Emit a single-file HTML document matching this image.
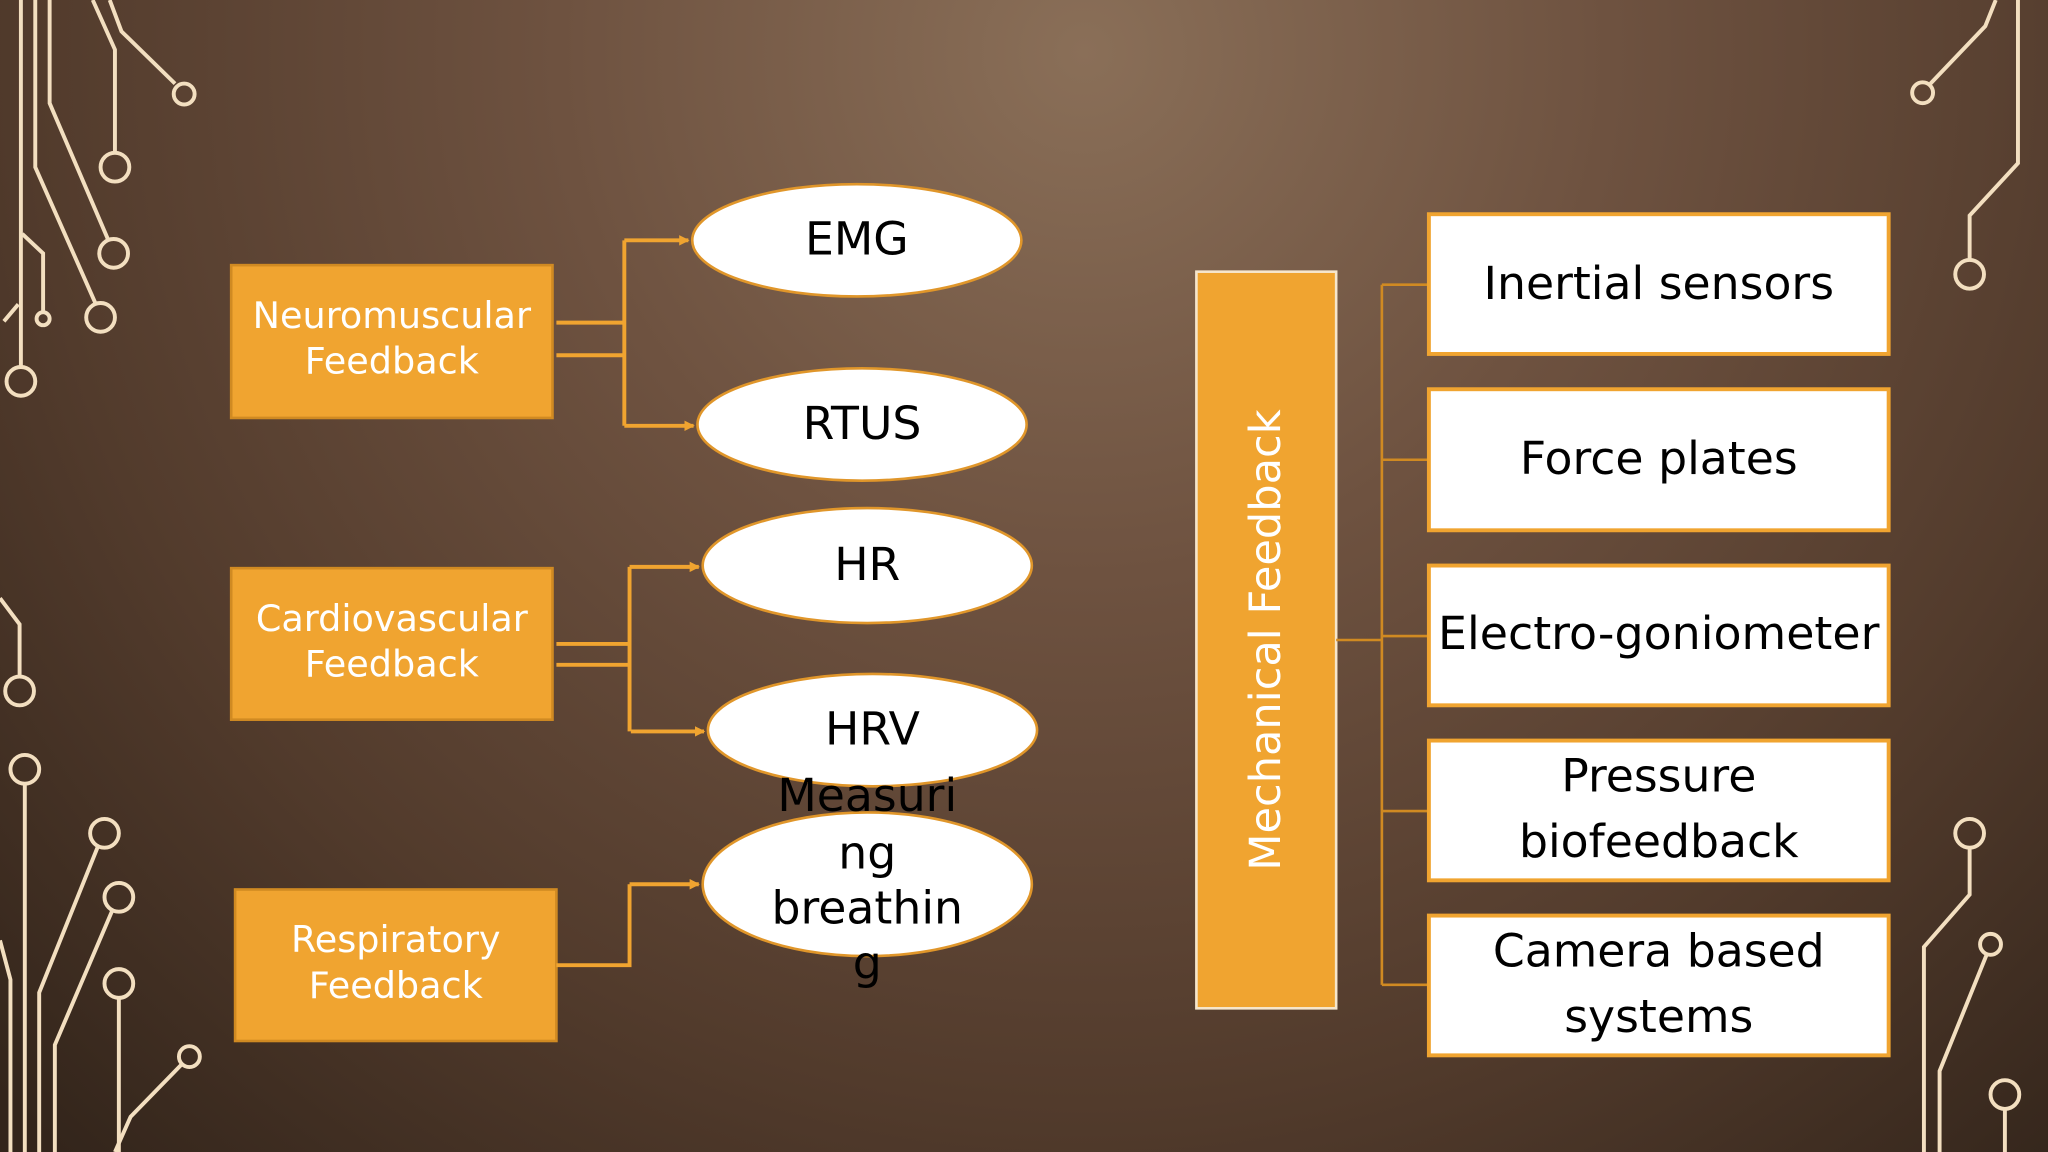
<!DOCTYPE html>
<html><head><meta charset="utf-8"><style>
html,body{margin:0;padding:0;width:2048px;height:1152px;overflow:hidden;background:#4a3526}
svg{display:block}
text{font-family:"DejaVu Sans","Liberation Sans",sans-serif}
</style></head><body>
<svg width="2048" height="1152" viewBox="0 0 1568 882" preserveAspectRatio="none" xmlns="http://www.w3.org/2000/svg">
<defs>
<radialGradient id="bg" cx="830" cy="40" r="1150" gradientUnits="userSpaceOnUse">
<stop offset="0" stop-color="#8a6f58"/>
<stop offset="0.35" stop-color="#6e5240"/>
<stop offset="0.7" stop-color="#523b2c"/>
<stop offset="1" stop-color="#33251b"/>
</radialGradient>
<marker id="ar" markerWidth="8" markerHeight="8" refX="7" refY="4" orient="auto" markerUnits="userSpaceOnUse"><path d="M0,0 L8,4 L0,8 z" fill="#f0a430"/></marker>
</defs>
<rect width="1568" height="882" fill="url(#bg)"/>
<g fill="none" stroke="#f3dfc0" stroke-width="3">
<path d="M16,0 V281"/><circle cx="16" cy="292" r="11"/>
<path d="M27,0 V128 L73,232"/><circle cx="77" cy="243" r="11"/>
<path d="M38,0 V79 L83,184"/><circle cx="87" cy="194" r="11"/>
<path d="M71,0 L88,38 V117"/><circle cx="88" cy="128" r="11"/>
<path d="M84,0 L93,24 L134,64"/><circle cx="141" cy="72" r="8"/>
<path d="M17,179 L33,194 V238"/><circle cx="33" cy="244" r="5"/>
<path d="M3,246 L14,233"/>
<path d="M1528,0 L1520,20 L1478,64"/><circle cx="1472" cy="71" r="8"/>
<path d="M1545,0 V125 L1508,165 V198"/><circle cx="1508" cy="210" r="11"/>
<path d="M0,458 L15,478 V518"/><circle cx="15" cy="529" r="11"/>
<circle cx="19" cy="589" r="11"/><path d="M19,600 V882"/>
<path d="M0,720 L8,750 V882"/>
<circle cx="80" cy="638" r="11"/><path d="M75,648 L30,760 V882"/>
<circle cx="91" cy="687" r="11"/><path d="M86,697 L42,800 V882"/>
<circle cx="91" cy="753" r="11"/><path d="M91,764 V882"/>
<circle cx="145" cy="809" r="8"/><path d="M139,815 L100,855 L88,882"/>
<circle cx="1508" cy="638" r="11"/><path d="M1508,649 V685 L1473,725 V882"/>
<circle cx="1524" cy="723" r="8"/><path d="M1521,731 L1485,820 V882"/>
<circle cx="1535" cy="838" r="11"/><path d="M1535,849 V882"/>
</g>
<g fill="#f0a430" stroke="#d08a22" stroke-width="2">
<rect x="177" y="203" width="246" height="117"/>
<rect x="177" y="435" width="246" height="116"/>
<rect x="180" y="681" width="246" height="116"/>
</g>
<g fill="#fff" font-size="28" text-anchor="middle">
<text x="300" y="251">Neuromuscular</text><text x="300" y="286">Feedback</text>
<text x="300" y="483">Cardiovascular</text><text x="300" y="518">Feedback</text>
<text x="303" y="729">Respiratory</text><text x="303" y="764">Feedback</text>
</g>
<g fill="none" stroke="#f0a430" stroke-width="3">
<path d="M426,247 H478 M426,272 H478 M478,184 V326"/>
<path d="M478,184 H527" marker-end="url(#ar)"/>
<path d="M478,326 H531" marker-end="url(#ar)"/>
<path d="M426,493 H483 M426,509 H483 M482,434 V560"/>
<path d="M482,434 H535" marker-end="url(#ar)"/>
<path d="M483,560 H539" marker-end="url(#ar)"/>
<path d="M426,739 H482 V677"/>
<path d="M482,677 H535" marker-end="url(#ar)"/>
</g>
<g fill="#fff" stroke="#e0962a" stroke-width="2">
<ellipse cx="656" cy="184" rx="126" ry="43"/>
<ellipse cx="660" cy="325" rx="126" ry="43"/>
<ellipse cx="664" cy="433" rx="126" ry="44"/>
<ellipse cx="668" cy="559" rx="126" ry="43"/>
<ellipse cx="664" cy="677" rx="126" ry="55"/>
</g>
<g fill="#000" font-size="35" text-anchor="middle">
<text x="656" y="195">EMG</text>
<text x="660" y="336">RTUS</text>
<text x="664" y="444">HR</text>
<text x="668" y="570">HRV</text>
<text x="664" y="621">Measuri</text>
<text x="664" y="665">ng</text>
<text x="664" y="707">breathin</text>
<text x="664" y="749">g</text>
</g>
<rect x="916" y="208" width="107" height="564" fill="#f0a430" stroke="#f6e6cc" stroke-width="2"/>
<text x="0" y="0" fill="#fff" font-size="33" text-anchor="middle" transform="translate(980,490) rotate(-90)">Mechanical Feedback</text>
<g fill="none" stroke="#d08a22" stroke-width="2">
<path d="M1023,490 H1058 M1058,218 V754 M1058,218 H1094 M1058,352 H1094 M1058,487 H1094 M1058,621 H1094 M1058,754 H1094"/>
</g>
<g fill="#fff" stroke="#f0a430" stroke-width="3">
<rect x="1094" y="164" width="352" height="107"/>
<rect x="1094" y="298" width="352" height="108"/>
<rect x="1094" y="433" width="352" height="107"/>
<rect x="1094" y="567" width="352" height="107"/>
<rect x="1094" y="701" width="352" height="107"/>
</g>
<g fill="#000" font-size="35" text-anchor="middle">
<text x="1270" y="229">Inertial sensors</text>
<text x="1270" y="363">Force plates</text>
<text x="1270" y="497" textLength="338" lengthAdjust="spacingAndGlyphs">Electro-goniometer</text>
<text x="1270" y="606">Pressure</text>
<text x="1270" y="656">biofeedback</text>
<text x="1270" y="740">Camera based</text>
<text x="1270" y="790">systems</text>
</g>
</svg>
</body></html>
